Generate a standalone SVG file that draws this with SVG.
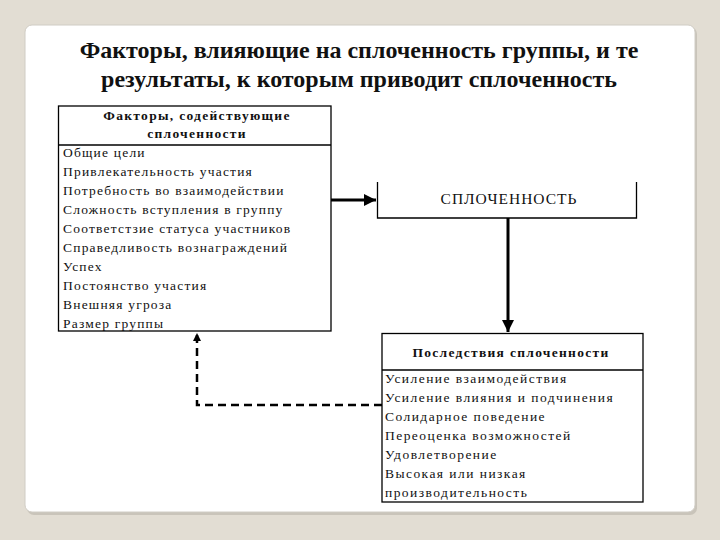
<svg xmlns="http://www.w3.org/2000/svg" width="720" height="540" viewBox="0 0 720 540">
<defs>
<style>
.t{font-family:"Liberation Serif","Times New Roman",serif;fill:#111}
.title{font-size:24px;font-weight:bold;text-anchor:middle}
.hd{font-size:13.5px;font-weight:bold;text-anchor:middle;letter-spacing:1.3px}
.it{font-size:13.5px;letter-spacing:1.2px}
.it2{font-size:13.5px;letter-spacing:1.45px}
.box{fill:#fff;stroke:#000;stroke-width:1.3}
.ln{stroke:#000;stroke-width:1.3;fill:none}
.arr{stroke:#000;stroke-width:3;fill:none}
.dash{stroke:#000;stroke-width:2.5;fill:none;stroke-dasharray:8 5}
</style>
<marker id="ah" viewBox="0 0 10 10" refX="10" refY="5" markerWidth="4.5" markerHeight="4" orient="auto" markerUnits="strokeWidth">
<path d="M0,0 L10,5 L0,10 Z" fill="#000"/>
</marker>
<marker id="ah2" viewBox="0 0 10 10" refX="10" refY="5" markerWidth="4" markerHeight="3.2" orient="auto" markerUnits="strokeWidth">
<path d="M0,0 L10,5 L0,10 Z" fill="#000"/>
</marker>
</defs>
<rect x="0" y="0" width="720" height="540" fill="#e2ddd3"/>
<rect x="27" y="27" width="670" height="488" rx="7" fill="#c9c4ba"/>
<rect x="25" y="25" width="670" height="487" rx="7" fill="#fff" stroke="#d0ccc4" stroke-width="1"/>
<g id="title">
<text class="t title" x="359" y="58">Факторы, влияющие на сплоченность группы, и те</text>
<text class="t title" x="359" y="87">результаты, к которым приводит сплоченность</text>
</g>
<g id="factors">
<rect class="box" x="58.5" y="106" width="272.5" height="225"/>
<line class="ln" x1="58.5" y1="145" x2="331" y2="145"/>
<text class="t hd" x="197" y="120">Факторы, содействующие</text>
<text class="t hd" x="197" y="138">сплоченности</text>
<text class="t it" x="63" y="157">Общие цели</text>
<text class="t it" x="63" y="176">Привлекательность участия</text>
<text class="t it" x="63" y="195">Потребность во взаимодействии</text>
<text class="t it" x="63" y="214">Сложность вступления в группу</text>
<text class="t it" x="63" y="233">Соответстзие статуса участников</text>
<text class="t it" x="63" y="252">Справедливость вознаграждений</text>
<text class="t it" x="63" y="271">Успех</text>
<text class="t it" x="63" y="290">Постоянство участия</text>
<text class="t it" x="63" y="309">Внешняя угроза</text>
<text class="t it" x="63" y="328">Размер группы</text>
</g>
<g id="cohesion">
<path class="ln" d="M377.5,182 V218 H636.5 V182"/>
<text class="t" x="509" y="204" font-size="15.5" letter-spacing="1" text-anchor="middle">СПЛОЧЕННОСТЬ</text>
</g>
<g id="consequences">
<rect class="box" x="382" y="333.5" width="261" height="168.5"/>
<line class="ln" x1="382" y1="370" x2="643" y2="370"/>
<text class="t hd" x="511" y="357">Последствия сплоченности</text>
<text class="t it2" x="385" y="383">Усиление взаимодействия</text>
<text class="t it2" x="385" y="402">Усиление влияния и подчинения</text>
<text class="t it2" x="385" y="421">Солидарное поведение</text>
<text class="t it2" x="385" y="440">Переоценка возможностей</text>
<text class="t it2" x="385" y="459">Удовлетворение</text>
<text class="t it2" x="385" y="478">Высокая или низкая</text>
<text class="t it2" x="385" y="497">производительность</text>
</g>
<g id="connectors">
<line class="arr" x1="331" y1="200" x2="376" y2="200" marker-end="url(#ah)"/>
<line class="arr" x1="508" y1="218" x2="508" y2="332" marker-end="url(#ah)"/>
<path class="dash" d="M382,405 H197 V333" marker-end="url(#ah2)"/>
</g>
</svg>
